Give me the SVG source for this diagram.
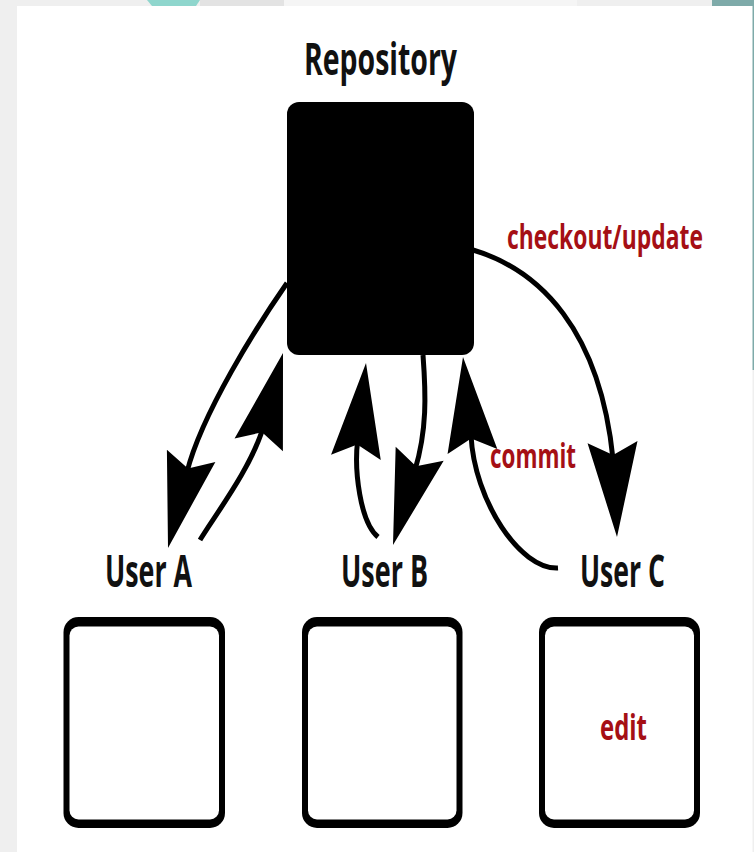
<svg xmlns="http://www.w3.org/2000/svg" xmlns:xlink="http://www.w3.org/1999/xlink" width="754" height="852" viewBox="0 0 754 852">
  <style>
    .lbl { font-family: "Liberation Sans Narrow", "Open Sans", "Liberation Sans", sans-serif; font-weight: bold; fill: #111; }
    .red { font-family: "Liberation Sans Narrow", "Open Sans", "Liberation Sans", sans-serif; font-weight: bold; fill: #a50f15; }
    .shaft { fill: none; stroke: #000; stroke-width: 5; stroke-linecap: butt; }
    .outer { fill: #000; }
    .inner { fill: #fff; }
  </style>
  <defs>
    <path id="ah" d="M0,0 L-95,-25 L-82,0 L-95,25 Z" fill="#000"/>
  </defs>

  <!-- background -->
  <rect x="0" y="0" width="754" height="852" fill="#efefef"/>
  <path d="M147,0 L200,0 L196,6 L152,6 Z" fill="#8fd6cd"/>
  <rect x="200" y="0" width="84" height="6" fill="#e3e3e3"/>
  <rect x="284" y="0" width="293" height="6" fill="#f5f5f5"/>
  <rect x="712" y="0" width="42" height="6" fill="#7eaaa9"/>
  <rect x="752" y="0" width="2" height="370" fill="#7eaaa9"/>
  <rect x="17" y="6" width="735.5" height="846" fill="#ffffff"/>

  <!-- Repository -->
  <g id="repository">
    <text class="lbl" transform="translate(304,75) scale(0.7,1)" font-size="44" textLength="218.6" lengthAdjust="spacingAndGlyphs">Repository</text>
    <rect x="287" y="102" width="187" height="253" rx="12" fill="#000"/>
  </g>

  <!-- User A -->
  <g id="userA">
    <text class="lbl" transform="translate(105,587) scale(0.7,1)" font-size="45" textLength="124.3" lengthAdjust="spacingAndGlyphs">User A</text>
    <rect class="outer" x="63.5" y="617" width="161.5" height="211" rx="15"/>
    <rect class="inner" x="69.5" y="626.5" width="149.5" height="193" rx="9"/>
  </g>

  <!-- User B -->
  <g id="userB">
    <text class="lbl" transform="translate(341,587) scale(0.7,1)" font-size="45" textLength="124.3" lengthAdjust="spacingAndGlyphs">User B</text>
    <rect class="outer" x="302" y="617" width="160.5" height="211" rx="15"/>
    <rect class="inner" x="308" y="626.5" width="148.5" height="193" rx="9"/>
  </g>

  <!-- User C -->
  <g id="userC">
    <text class="lbl" transform="translate(580,587) scale(0.7,1)" font-size="45" textLength="121.4" lengthAdjust="spacingAndGlyphs">User C</text>
    <rect class="outer" x="539" y="617" width="161" height="211" rx="15"/>
    <rect class="inner" x="545" y="626.5" width="149" height="193" rx="9"/>
    <text class="red" transform="translate(600,740) scale(0.7,1)" font-size="36" textLength="67.1" lengthAdjust="spacingAndGlyphs">edit</text>
  </g>

  <!-- connectors -->
  <g id="connectors">
    <!-- Repository -> User A -->
    <path class="shaft" d="M287,283 C257,326 201.6,414 187,472"/>
    <use xlink:href="#ah" href="#ah" transform="translate(168,548) rotate(104.1)"/>
    <!-- User A -> Repository -->
    <path class="shaft" d="M200,540 C215,515 250,470 263,428"/>
    <use xlink:href="#ah" href="#ah" transform="translate(283,353) rotate(-75.2)"/>
    <!-- User B -> Repository -->
    <path class="shaft" d="M378,537 C360,522 354,470 357.7,440"/>
    <use xlink:href="#ah" href="#ah" transform="translate(366,363) rotate(-83.9)"/>
    <!-- Repository -> User B -->
    <path class="shaft" d="M423,355 C426,395 427,430 415,470"/>
    <use xlink:href="#ah" href="#ah" transform="translate(393,545) rotate(106.3)"/>
    <!-- User C -> Repository (commit) -->
    <path class="shaft" d="M558,568 C520,570 474,500 471,435"/>
    <use xlink:href="#ah" href="#ah" transform="translate(463,357) rotate(-95.7)"/>
    <!-- Repository -> User C (checkout/update) -->
    <path class="shaft" d="M473,250 C540,270 600,330 613,459"/>
    <use xlink:href="#ah" href="#ah" transform="translate(617,537) rotate(87.3)"/>
    <text class="red" transform="translate(507,249) scale(0.7,1)" font-size="34" textLength="280" lengthAdjust="spacingAndGlyphs">checkout/update</text>
    <text class="red" transform="translate(490,468) scale(0.7,1)" font-size="34" textLength="122.9" lengthAdjust="spacingAndGlyphs">commit</text>
  </g>
</svg>
